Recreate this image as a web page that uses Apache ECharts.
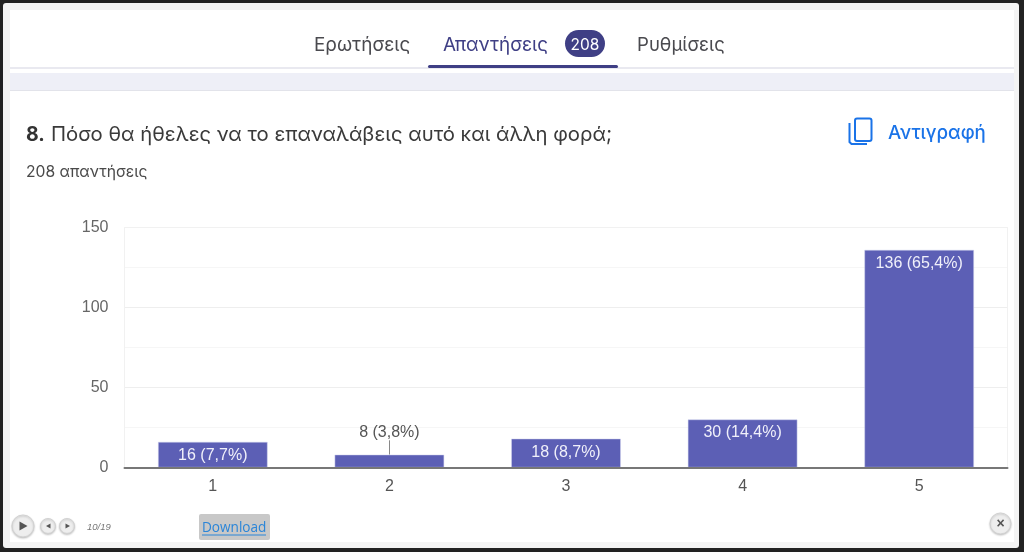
<!DOCTYPE html>
<html>
<head>
<meta charset="utf-8">
<title>Απαντήσεις</title>
<style>
  html, body { margin: 0; padding: 0; background: #222; }
  #chart { width: 1024px; height: 552px; }
</style>
<script src="https://cdn.jsdelivr.net/npm/echarts@6/dist/echarts.min.js"></script>
</head>
<body>
<div id="chart"></div>
<script>
const categories = ["1", "2", "3", "4", "5"];
const counts = [16, 8, 18, 30, 136];
const percents = ["7,7%", "3,8%", "8,7%", "14,4%", "65,4%"];
const yTicks = { min: 0, max: 150, interval: 50 };
const leaderTop = 17; // top of the leader line above the short bar, in axis units

const INDIGO = "#5c5fb5";
const DARK = "#3f3f85";
const UI_FONT = "Inter, 'Noto Sans', sans-serif";
const CHART_FONT = "'Liberation Sans', Arial, sans-serif";

const chart = echarts.init(document.getElementById("chart"), null, { renderer: "canvas" });

const text = (x, y, t, size, fill, extra = {}) => ({
  type: "text", x, y,
  style: { text: t, fontSize: size, fill, fontFamily: UI_FONT, textVerticalAlign: "middle", ...extra },
});
const rect = (x, y, w, h, fill, r = 0, extra = {}) => ({
  type: "rect", shape: { x, y, width: w, height: h, r }, style: { fill, ...extra },
});
const roundBtn = (cx, cy, r, points) => [
  {
    type: "circle", shape: { cx, cy, r },
    style: { fill: "#eeeeee", stroke: "#d2d2d2", lineWidth: 1, shadowBlur: 2, shadowColor: "rgba(0,0,0,0.2)", shadowOffsetY: 1 },
  },
  { type: "polygon", shape: { points }, style: { fill: "#555" } },
];

const chrome = [
  // frame
  rect(3, 3, 1016, 545, "#f4f4f4", 3),
  rect(10, 10, 1004, 532, "#ffffff"),
  // tabs
  text(314, 45, "Ερωτήσεις", 18.9, "#4a4a4f"),
  text(443, 45, "Απαντήσεις", 18.9, DARK),
  rect(565, 30, 40, 27, DARK, 13.5),
  text(585, 45, "208", 15.5, "#ffffff", { textAlign: "center" }),
  text(637, 45, "Ρυθμίσεις", 18.6, "#4a4a4f"),
  rect(10, 67, 1004, 2, "#e9e9f0"),
  rect(428, 65, 190, 3, DARK, 1.5),
  rect(10, 73, 1004, 17, "#eeeff7"),
  rect(10, 90, 1004, 1, "#e2e3ea"),
  // question header
  text(26, 135, "8.", 19.5, "#333333", { fontWeight: "bold" }),
  text(51, 135, "Πόσο θα ήθελες να το επαναλάβεις αυτό και άλλη φορά;", 20.3, "#3a3a3a"),
  text(26, 172, "208 απαντήσεις", 15.7, "#4a4a4a"),
  // copy icon
  rect(855, 118.5, 16.5, 22.5, "none", 2, { stroke: "#1a73e8", lineWidth: 2 }),
  {
    type: "polyline",
    shape: { points: [[849.5, 123], [849.5, 142], [851.5, 144], [867, 144]] },
    style: { stroke: "#1a73e8", lineWidth: 2, fill: "none" },
  },
  text(888, 133, "Αντιγραφή", 18.7, "#1a73e8", { fontWeight: 500 }),
  // slideshow controls
  ...roundBtn(23, 526, 11, [[19.5, 521.5], [19.5, 530.5], [27.5, 526]]),
  ...roundBtn(48, 526, 7.5, [[50.5, 523.5], [50.5, 528.5], [46, 526]]),
  ...roundBtn(67, 526, 7.5, [[65.5, 523.5], [65.5, 528.5], [70, 526]]),
  text(87, 527, "10/19", 9.5, "#777777", { fontStyle: "italic", fontFamily: CHART_FONT }),
  rect(199, 514, 71, 26, "#c8c8c8", 2),
  text(202, 528.5, "Download", 13.6, "#2a85d8", { fontFamily: "'Open Sans', sans-serif" }),
  rect(202, 534.5, 64, 1, "#2a85d8"),
  ...roundBtn(1000.5, 523.5, 10.5, []),
  text(1000.5, 524, "×", 14, "#555555", { textAlign: "center", fontWeight: "bold", fontFamily: CHART_FONT }),
];

chart.setOption({
  backgroundColor: "#222222",
  animation: false,
  graphic: { elements: chrome.map((e) => ({ ...e, silent: true })) },
  grid: {
    left: 124.5, right: 16.5, top: 227.5, bottom: 84.5, z: 5,
    show: true, borderColor: "#f1f1f1", borderWidth: 1,
  },
  xAxis: {
    type: "category",
    data: categories,
    z: 10,
    axisLine: { lineStyle: { color: "#777777", width: 2 } },
    axisTick: { show: false },
    axisLabel: { color: "#555555", fontSize: 16, fontFamily: CHART_FONT, margin: 11 },
  },
  yAxis: {
    type: "value",
    min: yTicks.min,
    max: yTicks.max,
    interval: yTicks.interval,
    axisLine: { show: false },
    axisTick: { show: false },
    axisLabel: { color: "#666666", fontSize: 16, fontFamily: CHART_FONT, margin: 16, padding: [3, 0, 0, 0] },
    splitLine: { lineStyle: { color: "#eeeeee", width: 1 } },
    minorTick: { show: false, splitNumber: 2 },
    minorSplitLine: { show: true, lineStyle: { color: "#f6f6f6", width: 1 } },
  },
  series: [
    {
      type: "bar",
      z: 6,
      barWidth: "62%",
      itemStyle: { color: INDIGO, borderColor: "#d3d4ee", borderWidth: 0.5 },
      label: {
        show: true,
        position: "insideTop",
        distance: 5.5,
        color: "#f0f0fa",
        fontSize: 16,
        fontFamily: CHART_FONT,
        fontWeight: 500,
        formatter: (p) => `${p.value} (${percents[p.dataIndex]})`,
      },
      data: counts.map((v, i) =>
        i === 1
          ? { value: v, label: { position: "top", distance: 14, color: "#555555", fontWeight: "normal" } }
          : v
      ),
      markLine: {
        silent: true,
        symbol: "none",
        label: { show: false },
        lineStyle: { color: "#888888", width: 1, type: "solid" },
        data: [[{ xAxis: categories[1], yAxis: counts[1] }, { xAxis: categories[1], yAxis: leaderTop }]],
      },
    },
  ],
});

window.addEventListener("resize", () => chart.resize());
</script>
</body>
</html>
